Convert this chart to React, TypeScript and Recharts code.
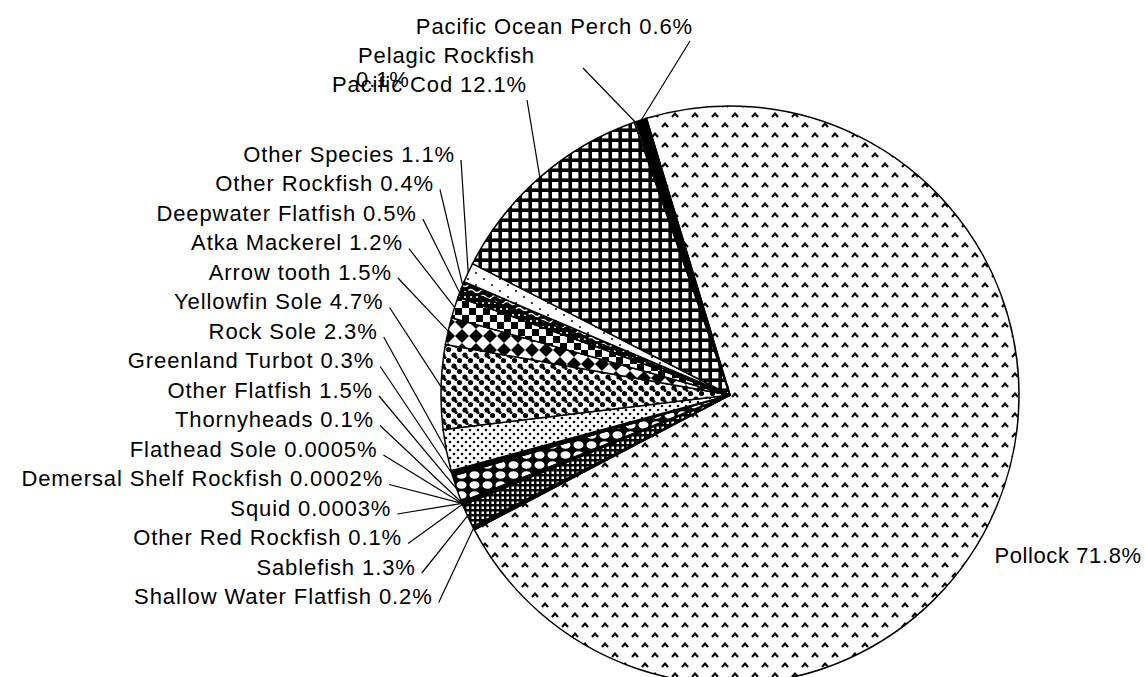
import { PieChart, Pie, Cell } from 'recharts';

const species = [
  'Pollock',
  'Shallow Water Flatfish',
  'Sablefish',
  'Other Red Rockfish',
  'Squid',
  'Demersal Shelf Rockfish',
  'Flathead Sole',
  'Thornyheads',
  'Other Flatfish',
  'Greenland Turbot',
  'Rock Sole',
  'Yellowfin Sole',
  'Arrow tooth',
  'Atka Mackerel',
  'Deepwater Flatfish',
  'Other Rockfish',
  'Other Species',
  'Pacific Cod',
  'Pelagic Rockfish',
  'Pacific Ocean Perch',
];
const shares = [
  71.8, 0.2, 1.3, 0.1, 0.0003, 0.0002, 0.0005, 0.1, 1.5, 0.3, 2.3, 4.7, 1.5, 1.2, 0.5, 0.4, 1.1,
  12.1, 0.1, 0.6,
];

const data = species.map((name, i) => ({ name, value: shares[i] }));

// hatch used for each slice, same order as species
const fills = [
  'url(#chevron)', '#000', 'url(#fineCheck)', '#000', '#000', '#000', '#000', '#000',
  'url(#honeycomb)', '#000', 'url(#dots)', 'url(#blobs)', 'url(#diamonds)', 'url(#checker)',
  'url(#specks)', 'url(#wavy)', 'url(#sparse)', 'url(#grid)', '#fff', '#000',
];

const RAD = Math.PI / 180;
const font = { fontFamily: 'Liberation Sans, Arial, sans-serif', fontSize: 22, letterSpacing: 0.9 };
const dy = -4;

const renderLabel = (props: any) => {
  const { cx, cy, midAngle, outerRadius, index, name, value } = props;
  const ex = cx + outerRadius * Math.cos(-midAngle * RAD);
  const ey = cy + outerRadius * Math.sin(-midAngle * RAD);
  const text = `${name} ${value}%`;
  const line = (x1: number, y1: number) => (
    <line x1={x1} y1={y1} x2={ex} y2={ey} stroke="#000" strokeWidth={1.2} />
  );

  if (index === 0) {
    return (
      <text key={index} x={cx + outerRadius * 0.915} y={cy + outerRadius * 0.57 + dy} dominantBaseline="central" fill="#000" style={{ ...font, letterSpacing: 0.6 }}>
        {text}
      </text>
    );
  }
  if (index <= 16) {
    // left column, stacked on an arc around the pie
    const row = 16 - index;
    const y = cy - 237 + row * 29.5;
    const xEnd = cx + 26.5 - Math.sqrt(383.5 * 383.5 - (y - cy) * (y - cy));
    return (
      <g key={index}>
        {line(xEnd + 6, y + 2)}
        <text x={xEnd} y={y + dy} textAnchor="end" dominantBaseline="central" fill="#000" style={font}>
          {text}
        </text>
      </g>
    );
  }
  if (index === 17) {
    return (
      <g key={index}>
        {line(cx - 203, cy - 295)}
        <text x={cx - 203} y={cy - 307 + dy} textAnchor="end" dominantBaseline="central" fill="#000" style={font}>
          {text}
        </text>
      </g>
    );
  }
  if (index === 18) {
    return (
      <g key={index}>
        {line(cx - 147, cy - 327)}
        <text x={cx - 195} y={cy - 336 + dy} textAnchor="end" dominantBaseline="central" fill="#000" style={font}>
          {name}
        </text>
        <text x={cx - 374} y={cy - 312 + dy} dominantBaseline="central" fill="#000" style={font}>
          {`${value}%`}
        </text>
      </g>
    );
  }
  return (
    <g key={index}>
      {line(cx - 40, cy - 354)}
      <text x={cx - 37} y={cy - 365 + dy} textAnchor="end" dominantBaseline="central" fill="#000" style={font}>
        {text}
      </text>
    </g>
  );
};

const Patterns = () => (
  <svg width={0} height={0} style={{ position: 'absolute' }}>
    <defs>
      <pattern id="chevron" width={20} height={20} patternUnits="userSpaceOnUse">
        <rect width={20} height={20} fill="#fff" />
        <path d="M2 7 L5 3.6 L8 7 M12 17 L15 13.6 L18 17" stroke="#000" strokeWidth={2.2} fill="none" />
      </pattern>
      <pattern id="grid" width={10} height={10} patternUnits="userSpaceOnUse">
        <rect width={10} height={10} fill="#000" />
        <rect x={2} y={2} width={6.4} height={6.4} fill="#fff" />
      </pattern>
      <pattern id="checker" width={14} height={14} patternUnits="userSpaceOnUse">
        <rect width={14} height={14} fill="#000" />
        <rect x={0} y={0} width={7} height={7} fill="#fff" />
        <rect x={7} y={7} width={7} height={7} fill="#fff" />
      </pattern>
      <pattern id="diamonds" width={14} height={14} patternUnits="userSpaceOnUse">
        <rect width={14} height={14} fill="#000" />
        <polygon points="7,0 14,7 7,14 0,7" fill="#fff" />
      </pattern>
      <pattern id="blobs" width={11} height={11} patternUnits="userSpaceOnUse">
        <rect width={11} height={11} fill="#fff" />
        <circle cx={3} cy={3} r={2.6} fill="#000" />
        <circle cx={5} cy={5.5} r={1.6} fill="#000" />
        <circle cx={8.5} cy={8.5} r={2.6} fill="#000" />
      </pattern>
      <pattern id="dots" width={8} height={8} patternUnits="userSpaceOnUse">
        <rect width={8} height={8} fill="#fff" />
        <circle cx={2} cy={2} r={1.3} fill="#000" />
        <circle cx={6} cy={6} r={1.3} fill="#000" />
      </pattern>
      <pattern id="honeycomb" width={13} height={10} patternUnits="userSpaceOnUse">
        <rect width={13} height={10} fill="#000" />
        <ellipse cx={6.5} cy={5} rx={5} ry={3.8} fill="#fff" />
      </pattern>
      <pattern id="fineCheck" width={5} height={5} patternUnits="userSpaceOnUse">
        <rect width={5} height={5} fill="#000" />
        <rect x={1.5} y={1.5} width={2.5} height={2.5} fill="#fff" />
      </pattern>
      <pattern id="sparse" width={16} height={12} patternUnits="userSpaceOnUse">
        <rect width={16} height={12} fill="#fff" />
        <circle cx={4} cy={3} r={1} fill="#000" />
        <circle cx={12} cy={9} r={1} fill="#000" />
      </pattern>
      <pattern id="wavy" width={12} height={6} patternUnits="userSpaceOnUse">
        <rect width={12} height={6} fill="#000" />
        <path d="M0 3 Q3 0 6 3 T12 3" stroke="#fff" strokeWidth={1.5} fill="none" />
      </pattern>
      <pattern id="specks" width={6} height={6} patternUnits="userSpaceOnUse">
        <rect width={6} height={6} fill="#000" />
        <circle cx={3} cy={3} r={1.1} fill="#fff" />
      </pattern>
    </defs>
  </svg>
);

export default function App() {
  return (
    <div style={{ position: 'absolute', left: 0, top: 0, width: 1145, height: 677, background: '#fff' }}>
      <Patterns />
      <PieChart width={1145} height={677}>
        <Pie
          data={data}
          dataKey="value"
          nameKey="name"
          cx={725}
          cy={390}
          outerRadius={289}
          startAngle={106.8}
          endAngle={-253.2}
          stroke="#000"
          strokeWidth={1.5}
          label={renderLabel}
          labelLine={false}
          isAnimationActive={false}
        >
          {data.map((d, i) => (
            <Cell key={d.name} fill={fills[i]} />
          ))}
        </Pie>
      </PieChart>
    </div>
  );
}
